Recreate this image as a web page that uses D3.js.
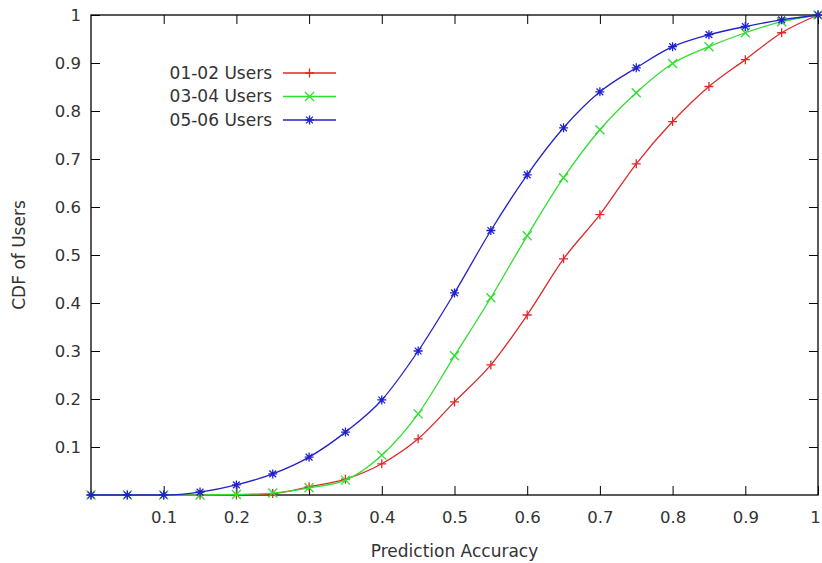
<!DOCTYPE html>
<html>
<head>
<meta charset="utf-8">
<script src="https://cdn.jsdelivr.net/npm/d3@7"></script>
<style>
  body { margin: 0; background: #fff; }
  text { font-family: "DejaVu Sans", sans-serif; fill: #333; }
</style>
</head>
<body>
<div id="chart"></div>
<script>
// accuracy steps
const xs = [0, 0.05, 0.1, 0.15, 0.2, 0.25, 0.3, 0.35, 0.4, 0.45, 0.5,
            0.55, 0.6, 0.65, 0.7, 0.75, 0.8, 0.85, 0.9, 0.95, 1];

const users0102 = [0, 0, 0, 0, 0, 0.003, 0.017, 0.033, 0.065, 0.117, 0.194,
                   0.271, 0.375, 0.492, 0.584, 0.69, 0.778, 0.851, 0.907, 0.963, 1];
const users0304 = [0, 0, 0, 0, 0.001, 0.004, 0.015, 0.031, 0.083, 0.169, 0.29,
                   0.411, 0.54, 0.661, 0.761, 0.838, 0.899, 0.934, 0.963, 0.986, 1];
const users0506 = [0, 0, 0, 0.006, 0.021, 0.044, 0.079, 0.131, 0.198, 0.3, 0.421,
                   0.551, 0.667, 0.765, 0.84, 0.89, 0.934, 0.959, 0.976, 0.99, 1];

const seriesNames = ["01-02 Users", "03-04 Users", "05-06 Users"];
const seriesColors = ["#e02828", "#2ee02e", "#2222cc"];
const seriesMarkers = ["plus", "cross", "star"];

const xTicks = [0.1, 0.2, 0.3, 0.4, 0.5, 0.6, 0.7, 0.8, 0.9, 1];
const yTicks = [0.1, 0.2, 0.3, 0.4, 0.5, 0.6, 0.7, 0.8, 0.9, 1];

const width = 822, height = 563;
const margin = {top: 15, right: 4, bottom: 68, left: 91};
const w = width - margin.left - margin.right;
const h = height - margin.top - margin.bottom;

const svg = d3.select("#chart").append("svg")
  .attr("width", width).attr("height", height);

const g = svg.append("g")
  .attr("transform", "translate(" + margin.left + "," + margin.top + ")");

const x = d3.scaleLinear().domain([0, 1]).range([0, w]);
const y = d3.scaleLinear().domain([0, 1]).range([h, 0]);

const fmt = d => d === 1 ? "1" : d3.format(".1f")(d);
const TICK = 9;

// axes with inward ticks, mirrored
function styleAxis(sel) {
  sel.select(".domain").remove();
  sel.selectAll(".tick line").attr("stroke", "#000").attr("stroke-width", 1);
  sel.selectAll(".tick text").style("font-size", "16.5px").attr("fill", "#333");
}

const xAxisG = g.append("g")
  .attr("transform", "translate(0," + h + ")")
  .call(d3.axisBottom(x).tickValues(xTicks).tickFormat(fmt).tickSizeInner(-TICK).tickPadding(16))
  .call(styleAxis);
// last label sits on the page edge, nudge it in a bit
xAxisG.selectAll(".tick text").filter(d => d === 1).attr("dx", "-3");

g.append("g")
  .call(d3.axisTop(x).tickValues(xTicks).tickFormat("").tickSizeInner(-TICK))
  .call(styleAxis);

g.append("g")
  .call(d3.axisLeft(y).tickValues(yTicks).tickFormat(fmt).tickSizeInner(-TICK).tickPadding(10))
  .call(styleAxis);

g.append("g")
  .attr("transform", "translate(" + w + ",0)")
  .call(d3.axisRight(y).tickValues(yTicks).tickFormat("").tickSizeInner(-TICK))
  .call(styleAxis);

// border
g.append("rect")
  .attr("x", 0).attr("y", 0).attr("width", w).attr("height", h)
  .attr("fill", "none").attr("stroke", "#000").attr("stroke-width", 1.3);

// axis titles
svg.append("text")
  .attr("x", margin.left + x(0.5)).attr("y", 557)
  .attr("text-anchor", "middle").style("font-size", "17px")
  .text("Prediction Accuracy");

svg.append("text")
  .attr("transform", "translate(25," + (margin.top + y(0.5)) + ") rotate(-90)")
  .attr("text-anchor", "middle").style("font-size", "17px")
  .text("CDF of Users");

function markerPath(type, s) {
  if (type === "plus") return `M${-s},0H${s}M0,${-s}V${s}`;
  if (type === "cross") return `M${-s},${-s}L${s},${s}M${-s},${s}L${s},${-s}`;
  const d = s * 0.75;
  return `M${-s},0H${s}M0,${-s}V${s}M${-d},${-d}L${d},${d}M${-d},${d}L${d},${-d}`;
}

const allSeries = [users0102, users0304, users0506];
const line = d3.line()
  .x((d, i) => x(xs[i]))
  .y(d => y(d))
  .curve(d3.curveMonotoneX);

allSeries.forEach((vals, k) => {
  g.append("path")
    .datum(vals)
    .attr("fill", "none")
    .attr("stroke", seriesColors[k])
    .attr("stroke-width", 1.3)
    .attr("d", line);

  g.append("g").selectAll("path")
    .data(vals)
    .enter().append("path")
    .attr("transform", (d, i) => "translate(" + x(xs[i]) + "," + y(d) + ")")
    .attr("d", markerPath(seriesMarkers[k], 4.5))
    .attr("stroke", seriesColors[k])
    .attr("stroke-width", 1.3)
    .attr("fill", "none");
});

// legend
const legend = svg.append("g");
seriesNames.forEach((name, k) => {
  const ly = 73 + k * 23.5;
  legend.append("text")
    .attr("x", 272).attr("y", ly).attr("dy", "0.35em")
    .attr("text-anchor", "end").style("font-size", "17px")
    .text(name);
  legend.append("line")
    .attr("x1", 283).attr("x2", 336).attr("y1", ly).attr("y2", ly)
    .attr("stroke", seriesColors[k]).attr("stroke-width", 1.3);
  legend.append("path")
    .attr("transform", "translate(309.5," + ly + ")")
    .attr("d", markerPath(seriesMarkers[k], 4.5))
    .attr("stroke", seriesColors[k]).attr("stroke-width", 1.3)
    .attr("fill", "none");
});
</script>
</body>
</html>
